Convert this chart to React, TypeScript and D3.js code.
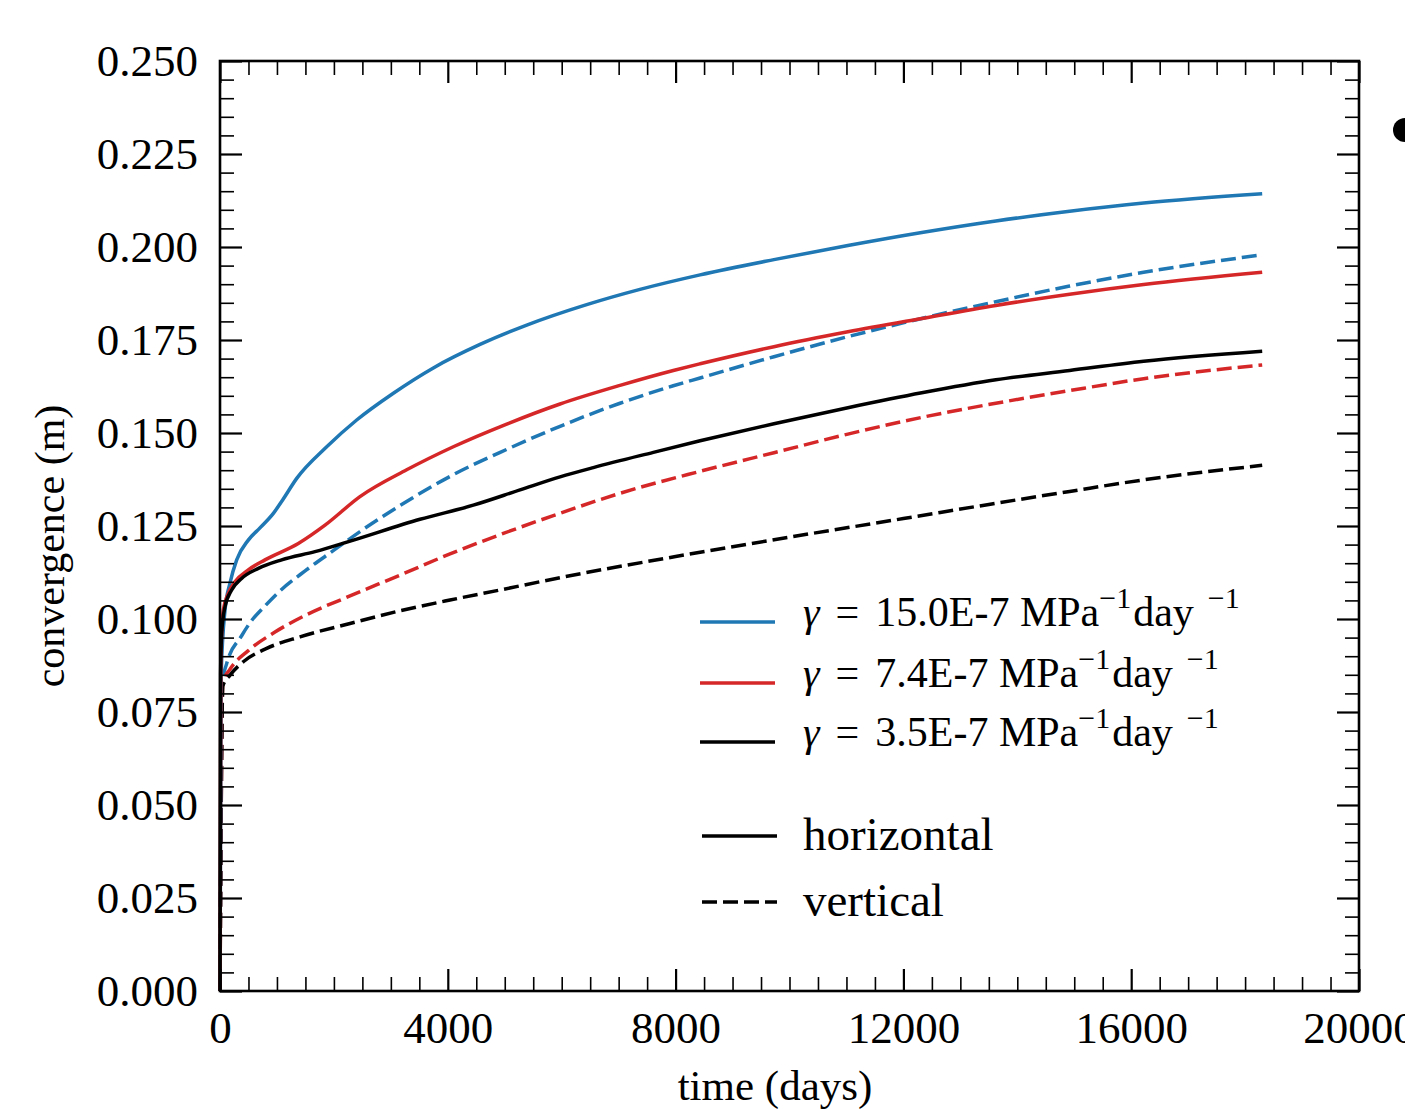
import React, { useEffect, useRef } from "react";
import * as d3 from "d3";

// series: [time (days), convergence (m)]
const blueHorizontal = [
  [0, 0], [20, 0.085], [88, 0.1024], [176, 0.1097], [293, 0.1159], [497, 0.1212],
  [702, 0.1245], [937, 0.1284], [1100, 0.132], [1347, 0.1378], [1874, 0.1463],
  [2400, 0.1535], [3044, 0.1607], [3746, 0.1675], [4566, 0.1738], [5386, 0.179],
  [6439, 0.1845], [7375, 0.1886], [8430, 0.1925], [9727, 0.1966], [11025, 0.2004],
  [12323, 0.2039], [13623, 0.207], [14920, 0.2096], [16218, 0.2118], [18300, 0.2143],
];
const blueVertical = [
  [0, 0], [40, 0.083], [117, 0.088], [380, 0.0955], [527, 0.099], [790, 0.1035],
  [1000, 0.1068], [1500, 0.113], [2000, 0.1185], [2458, 0.1235], [3161, 0.1305],
  [4097, 0.1388], [5035, 0.1456], [5971, 0.1518], [7024, 0.158], [7960, 0.1627],
  [8430, 0.1648], [9727, 0.1705], [11025, 0.1759], [12323, 0.1808], [13623, 0.1853],
  [14920, 0.1895], [16218, 0.1932], [18300, 0.1979],
];
const redHorizontal = [
  [0, 0], [15, 0.088], [58, 0.1024], [146, 0.1069], [263, 0.11], [497, 0.1132],
  [790, 0.1159], [1375, 0.1203], [1850, 0.1253], [2458, 0.1329], [3278, 0.1401],
  [4097, 0.1463], [5035, 0.1524], [5971, 0.1578], [7024, 0.1628], [7960, 0.1668],
  [8430, 0.1686], [9727, 0.1732], [11025, 0.1772], [12323, 0.1808], [13623, 0.1843],
  [14920, 0.1873], [16218, 0.1899], [18300, 0.1932],
];
const redVertical = [
  [0, 0], [50, 0.083], [176, 0.0865], [497, 0.0915], [966, 0.0965], [1500, 0.101],
  [2283, 0.1062], [3161, 0.1118], [4039, 0.1175], [4975, 0.123], [5853, 0.1278],
  [7024, 0.1338], [8430, 0.1397], [9727, 0.1447], [11025, 0.1497], [12323, 0.1542],
  [13623, 0.158], [14920, 0.1614], [16218, 0.1646], [18300, 0.1683],
];
const blackHorizontal = [
  [0, 0], [10, 0.085], [29, 0.0961], [88, 0.1033], [205, 0.1078], [380, 0.1109],
  [673, 0.1136], [1083, 0.1159], [1668, 0.1181], [2300, 0.121], [3512, 0.1268],
  [4448, 0.1306], [5268, 0.1347], [5971, 0.1382], [6556, 0.1407], [7610, 0.1448],
  [8430, 0.1479], [9727, 0.1525], [11025, 0.1568], [12323, 0.1608], [13623, 0.1643],
  [14920, 0.1668], [16218, 0.1693], [18300, 0.172],
];
const blackVertical = [
  [0, 0], [50, 0.082], [176, 0.0849], [409, 0.0885], [820, 0.0921], [1405, 0.0952],
  [2283, 0.0988], [3161, 0.1022], [4039, 0.1051], [4917, 0.1078], [6000, 0.1112],
  [8000, 0.1168], [10000, 0.122], [12000, 0.127], [13500, 0.1308], [14920, 0.1343],
  [16218, 0.1374], [18300, 0.1413],
];

const gammaLabels = ["15.0E-7", "7.4E-7", "3.5E-7"];
const colors = ["#1f77b4", "#d62728", "#000000"];
const styleLabels = ["horizontal", "vertical"];
const xTicks = [0, 4000, 8000, 12000, 16000, 20000];
const yTicks = [0, 0.025, 0.05, 0.075, 0.1, 0.125, 0.15, 0.175, 0.2, 0.225, 0.25];

const FONT = "'Liberation Serif', 'Times New Roman', serif";
const DASH = "15,6";

export default function App() {
  const svgRef = useRef(null);
  const width = 1405;
  const height = 1109;
  const left = 220;
  const right = 1359;
  const top = 61;
  const bottom = 991;

  useEffect(() => {
    const svg = d3.select(svgRef.current);
    svg.selectAll("*").remove();

    const xScale = d3.scaleLinear().domain([0, 20000]).range([left, right]);
    const yScale = d3.scaleLinear().domain([0, 0.25]).range([bottom, top]);

    const series = [
      { data: blueHorizontal, color: colors[0], dash: null },
      { data: redHorizontal, color: colors[1], dash: null },
      { data: blackHorizontal, color: colors[2], dash: null },
      { data: blueVertical, color: colors[0], dash: DASH },
      { data: redVertical, color: colors[1], dash: DASH },
      { data: blackVertical, color: colors[2], dash: DASH },
    ];

    const line = d3
      .line()
      .x((d) => xScale(d[0]))
      .y((d) => yScale(d[1]))
      .curve(d3.curveMonotoneX);

    // dashed first, solid on top
    [3, 4, 5, 0, 1, 2].forEach((i) => {
      const s = series[i];
      svg
        .append("path")
        .attr("d", line(s.data))
        .attr("fill", "none")
        .attr("stroke", s.color)
        .attr("stroke-width", 3.5)
        .attr("stroke-dasharray", s.dash)
        .attr("stroke-linejoin", "round");
    });

    const xMinor = d3.range(0, 20001, 500).filter((v) => v % 4000 !== 0);
    const yMinor = d3.range(0, 51, 1).map((v) => v * 0.005).filter((_, i) => i % 5 !== 0);

    const styleTicks = (g, w) => {
      g.select(".domain").remove();
      g.selectAll(".tick line").attr("stroke", "#000").attr("stroke-width", w);
      g.selectAll("text")
        .attr("fill", "#000")
        .style("font-family", FONT)
        .style("font-size", "45px");
    };

    // bottom
    svg.append("g")
      .attr("transform", `translate(0, ${bottom})`)
      .call(d3.axisBottom(xScale).tickValues(xTicks).tickSize(-22).tickPadding(20).tickFormat(d3.format("d")))
      .call((g) => styleTicks(g, 2.2));
    svg.append("g")
      .attr("transform", `translate(0, ${bottom})`)
      .call(d3.axisBottom(xScale).tickValues(xMinor).tickSize(-14).tickFormat(() => ""))
      .call((g) => styleTicks(g, 1.6));
    // top
    svg.append("g")
      .attr("transform", `translate(0, ${top})`)
      .call(d3.axisTop(xScale).tickValues(xTicks).tickSize(-22).tickFormat(() => ""))
      .call((g) => styleTicks(g, 2.2));
    svg.append("g")
      .attr("transform", `translate(0, ${top})`)
      .call(d3.axisTop(xScale).tickValues(xMinor).tickSize(-14).tickFormat(() => ""))
      .call((g) => styleTicks(g, 1.6));
    // left
    svg.append("g")
      .attr("transform", `translate(${left}, 0)`)
      .call(d3.axisLeft(yScale).tickValues(yTicks).tickSize(-22).tickPadding(22).tickFormat(d3.format(".3f")))
      .call((g) => styleTicks(g, 2.2));
    svg.append("g")
      .attr("transform", `translate(${left}, 0)`)
      .call(d3.axisLeft(yScale).tickValues(yMinor).tickSize(-14).tickFormat(() => ""))
      .call((g) => styleTicks(g, 1.6));
    // right
    svg.append("g")
      .attr("transform", `translate(${right}, 0)`)
      .call(d3.axisRight(yScale).tickValues(yTicks).tickSize(-22).tickFormat(() => ""))
      .call((g) => styleTicks(g, 2.2));
    svg.append("g")
      .attr("transform", `translate(${right}, 0)`)
      .call(d3.axisRight(yScale).tickValues(yMinor).tickSize(-14).tickFormat(() => ""))
      .call((g) => styleTicks(g, 1.6));

    svg.append("rect")
      .attr("x", left)
      .attr("y", top)
      .attr("width", right - left)
      .attr("height", bottom - top)
      .attr("fill", "none")
      .attr("stroke", "#000")
      .attr("stroke-width", 2.6);

    // axis titles
    svg.append("text")
      .attr("x", 775)
      .attr("y", 1100)
      .attr("text-anchor", "middle")
      .style("font-family", FONT)
      .style("font-size", "43px")
      .text("time (days)");
    svg.append("text")
      .attr("transform", "translate(64, 546) rotate(-90)")
      .attr("text-anchor", "middle")
      .style("font-family", FONT)
      .style("font-size", "42px")
      .text("convergence (m)");

    // legend
    const legend = svg.append("g").attr("transform", "translate(700, 0)");
    const gammaRows = [622, 683, 742];
    gammaLabels.forEach((g, i) => {
      const y = gammaRows[i];
      legend.append("line")
        .attr("x1", 0).attr("x2", 75).attr("y1", y).attr("y2", y)
        .attr("stroke", colors[i]).attr("stroke-width", 3.5);
      const t = legend.append("text")
        .attr("x", 103)
        .attr("y", y + 4)
        .style("font-family", FONT)
        .style("font-size", "42px");
      t.append("tspan").style("font-style", "italic").text("γ");
      t.append("tspan").attr("dx", 16).text("=");
      t.append("tspan").attr("dx", 16).text(`${g} MPa`);
      t.append("tspan").attr("dy", -18).style("font-size", "30px").text("−1");
      t.append("tspan").attr("dy", 18).attr("dx", 2).text("day");
      t.append("tspan").attr("dy", -18).attr("dx", 14).style("font-size", "30px").text("−1");
    });
    const styleRows = [836, 902];
    styleLabels.forEach((s, i) => {
      const y = styleRows[i];
      legend.append("line")
        .attr("x1", 2).attr("x2", 77).attr("y1", y).attr("y2", y)
        .attr("stroke", "#000").attr("stroke-width", 3.5)
        .attr("stroke-dasharray", i === 1 ? DASH : null);
      legend.append("text")
        .attr("x", 103)
        .attr("y", y + 14)
        .style("font-family", FONT)
        .style("font-size", "47px")
        .text(s);
    });

    // bullet from the slide
    svg.append("circle").attr("cx", 1405).attr("cy", 130).attr("r", 12).attr("fill", "#000");
  }, []);

  return (
    <svg
      ref={svgRef}
      width={width}
      height={height}
      style={{ position: "absolute", left: 0, top: 0, background: "#fff" }}
    ></svg>
  );
}
